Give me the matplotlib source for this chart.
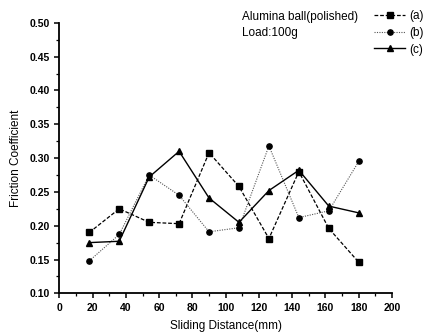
import matplotlib
matplotlib.use("Agg")
import matplotlib.pyplot as plt
from matplotlib.ticker import MultipleLocator, FormatStrFormatter

plt.rcParams["font.family"] = ["Liberation Sans", "DejaVu Sans"]

distance = [18, 36, 54, 72, 90, 108, 126, 144, 162, 180]
series_a = [0.190, 0.225, 0.205, 0.203, 0.308, 0.258, 0.181, 0.280, 0.196, 0.146]
series_b = [0.148, 0.187, 0.275, 0.245, 0.191, 0.197, 0.318, 0.212, 0.222, 0.295]
series_c = [0.175, 0.177, 0.272, 0.310, 0.241, 0.205, 0.252, 0.282, 0.229, 0.219]

fig = plt.figure(figsize=(4.27, 3.36), dpi=100)
ax = fig.add_axes([0.139, 0.127, 0.779, 0.805])

ax.plot(distance, series_a, color="black", linestyle=(0, (3, 1.5)), linewidth=0.9,
        marker="s", markersize=3.8, label="(a)")
ax.plot(distance, series_b, color="#555555", linestyle=(0, (1, 1.2)), linewidth=0.8,
        marker="o", markersize=3.8, markerfacecolor="black", markeredgecolor="black", label="(b)")
ax.plot(distance, series_c, color="black", linestyle="-", linewidth=1.0,
        marker="^", markersize=4.2, label="(c)")

ax.set_xlim(0, 200)
ax.set_ylim(0.10, 0.50)
ax.xaxis.set_major_locator(MultipleLocator(20))
ax.xaxis.set_minor_locator(MultipleLocator(10))
ax.yaxis.set_major_locator(MultipleLocator(0.05))
ax.yaxis.set_minor_locator(MultipleLocator(0.025))
ax.yaxis.set_major_formatter(FormatStrFormatter("%.2f"))

for side in ["top", "right"]:
    ax.spines[side].set_visible(False)
for side in ["left", "bottom"]:
    ax.spines[side].set_linewidth(1.3)
ax.tick_params(which="major", direction="out", length=3.5, width=1.1, labelsize=7.5)
ax.tick_params(which="minor", direction="out", length=2, width=0.9)
for lbl in ax.get_xticklabels() + ax.get_yticklabels():
    lbl.set_fontweight("bold")

ax.set_xlabel("Sliding Distance(mm)", fontsize=8.5, labelpad=5)
ax.set_ylabel("Friction Coefficient", fontsize=8.5, labelpad=5)

fig.text(0.567, 0.95, "Alumina ball(polished)", fontsize=8.5, va="center")
fig.text(0.567, 0.902, "Load:100g", fontsize=8.5, va="center")

fig.legend(loc="upper left", bbox_to_anchor=(0.875, 0.97), frameon=False, fontsize=8.5,
           handlelength=2.7, handletextpad=0.3, labelspacing=0.4, borderaxespad=0,
           borderpad=0)

fig.savefig("out.png", dpi=100)
